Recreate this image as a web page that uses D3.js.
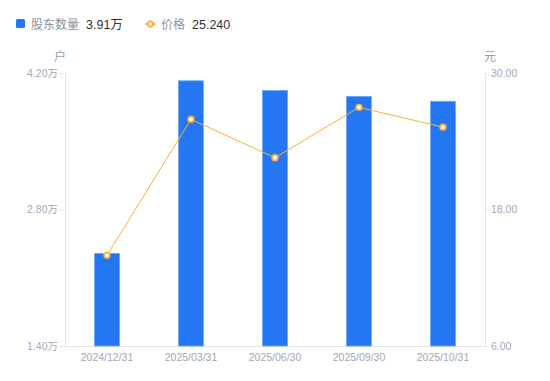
<!DOCTYPE html>
<html>
<head>
<meta charset="utf-8">
<script src="https://cdn.jsdelivr.net/npm/d3@7"></script>
<style>
  body { margin: 0; background: #fff; }
  svg { font-family: "Liberation Sans", "Noto Sans CJK SC", sans-serif; }
</style>
</head>
<body>
<svg id="chart"></svg>
<script>
// data
const dates = ["2024/12/31", "2025/03/31", "2025/06/30", "2025/09/30", "2025/10/31"];
const holders = [2.35, 4.12, 4.02, 3.96, 3.91];   // 万户
const prices = [13.97, 25.93, 22.55, 26.98, 25.24]; // 元
const leftTicks = [1.40, 2.80, 4.20];
const rightTicks = [6, 18, 30];

const width = 550, height = 381;
const margin = { top: 73, right: 65, bottom: 35, left: 65 };
const blue = "#2576f2", orange = "#f9b23a", tickColor = "#a3a7b6", lineColor = "#e3e4e8";

const svg = d3.select("#chart").attr("width", width).attr("height", height);

const x = d3.scaleBand().domain(dates)
            .range([margin.left, width - margin.right]);
const yL = d3.scaleLinear().domain([1.4, 4.2]).range([height - margin.bottom, margin.top]);
const yR = d3.scaleLinear().domain([6, 30]).range([height - margin.bottom, margin.top]);

// axes
const styleAxis = g => {
  g.select(".domain").attr("stroke", lineColor);
  g.selectAll(".tick line").attr("stroke", lineColor);
  g.selectAll(".tick text").attr("fill", tickColor).style("font-size", "10.5px");
};

svg.append("g")
   .attr("transform", `translate(${margin.left},0)`)
   .call(d3.axisLeft(yL).tickValues(leftTicks).tickSize(5).tickSizeOuter(0)
           .tickFormat(d => d3.format(".2f")(d) + "万"))
   .call(styleAxis)
   .call(g => g.selectAll(".tick text").attr("x", -7));

svg.append("g")
   .attr("transform", `translate(${width - margin.right},0)`)
   .call(d3.axisRight(yR).tickValues(rightTicks).tickSize(4).tickSizeOuter(0)
           .tickFormat(d3.format(".2f")))
   .call(styleAxis)
   .call(g => g.selectAll(".tick text").attr("x", 6));

svg.append("g")
   .attr("transform", `translate(0,${height - margin.bottom})`)
   .call(d3.axisBottom(x).tickSize(0).tickSizeOuter(0))
   .call(styleAxis)
   .call(g => g.selectAll(".tick text").attr("dy", "1.1em"));

svg.selectAll("g").attr("font-family", null);

// axis names
svg.append("text").attr("x", 60).attr("y", 61).attr("text-anchor", "middle")
   .attr("fill", "#9a9eae").style("font-size", "12px").text("户");
svg.append("text").attr("x", 490).attr("y", 61).attr("text-anchor", "middle")
   .attr("fill", "#9a9eae").style("font-size", "12px").text("元");

// bars
const barW = 25;
svg.append("g").selectAll("rect")
   .data(holders)
   .join("rect")
   .attr("x", (d, i) => x(dates[i]) + x.bandwidth() / 2 - barW / 2)
   .attr("y", d => yL(d))
   .attr("width", barW)
   .attr("height", d => yL(1.4) - yL(d))
   .attr("fill", blue)
   .attr("stroke", "#6ea6f7")
   .attr("stroke-width", 0.8);

// price line
const line = d3.line()
               .x((d, i) => x(dates[i]) + x.bandwidth() / 2)
               .y(d => yR(d));

svg.append("path").datum(prices)
   .attr("d", line)
   .attr("fill", "none")
   .attr("stroke", orange)
   .attr("stroke-width", 1);

svg.append("g").selectAll("circle")
   .data(prices)
   .join("circle")
   .attr("cx", (d, i) => x(dates[i]) + x.bandwidth() / 2)
   .attr("cy", d => yR(d))
   .attr("r", 2.8)
   .attr("fill", "#fff")
   .attr("stroke", orange)
   .attr("stroke-width", 1.8);

// legend
const legend = svg.append("g");
legend.append("rect").attr("x", 16).attr("y", 19).attr("width", 9).attr("height", 9)
      .attr("rx", 1.5).attr("fill", blue);
legend.append("text").attr("x", 31).attr("y", 29).attr("fill", "#8d91a0")
      .style("font-size", "12px").text("股东数量");
legend.append("text").attr("x", 86).attr("y", 29).attr("fill", "#333")
      .style("font-size", "12.5px").text(d3.format(".2f")(holders[holders.length - 1]) + "万");

legend.append("line").attr("x1", 145).attr("x2", 156).attr("y1", 24).attr("y2", 24)
      .attr("stroke", orange).attr("stroke-width", 1.5);
legend.append("circle").attr("cx", 150.5).attr("cy", 24).attr("r", 2.6)
      .attr("fill", "#fff").attr("stroke", orange).attr("stroke-width", 1.8);
legend.append("text").attr("x", 161).attr("y", 29).attr("fill", "#8d91a0")
      .style("font-size", "12px").text("价格");
legend.append("text").attr("x", 192).attr("y", 29).attr("fill", "#333")
      .style("font-size", "12.5px").text(d3.format(".3f")(prices[prices.length - 1]));
</script>
</body>
</html>
